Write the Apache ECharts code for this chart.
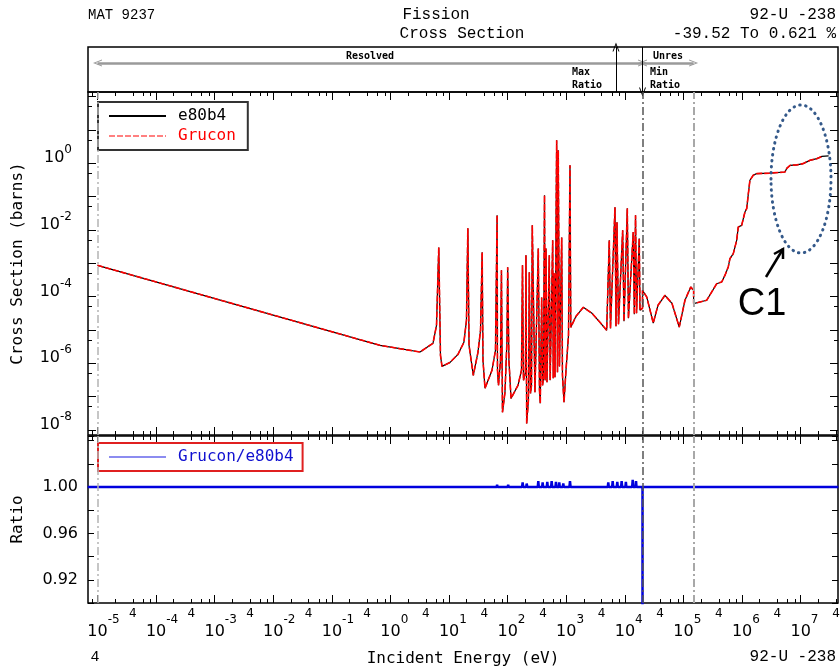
<!DOCTYPE html>
<html>
<head>
<meta charset="utf-8">
<title>MAT 9237 Fission Cross Section</title>
<script src="https://cdn.jsdelivr.net/npm/echarts@6.0.0/dist/echarts.min.js"></script>
<style>
  html, body { margin: 0; padding: 0; background: #fff; }
  #main { width: 840px; height: 668px; }
</style>
</head>
<body>
<div id="main"></div>
<script>
// cross section curve (energy in eV, sigma in barns)
var xsEnergy = [
  1e-5, 0.662, 1.45, 3.19, 5.31, 6.10, 6.67, 7.13, 7.57, 10.4, 14.2, 17.9, 19.8, 20.9, 21.9,
  25.9, 31.1, 34.4, 36.7, 37.9, 41.0, 54.0, 61.9, 66.0, 67.0, 69.7, 75.4, 78.3, 81.5, 89.9,
  97.3, 100, 105, 114, 150, 172, 179, 186, 201, 205, 211, 226, 234, 245, 255, 263, 292,
  333, 349, 360, 380, 393, 408, 425, 437, 451, 469, 513, 531, 586, 600, 617, 641, 685,
  708, 730, 765, 835, 861, 914, 989, 1091, 1157, 1194, 1465, 1950, 2750, 3760, 4890,
  5420, 5680, 6780, 7050, 7330, 7780, 9170, 9660, 11000, 11500, 13900, 14500, 15200,
  15800, 17600, 18100, 20000,
  20000, 23600, 30500, 36700, 48300, 63600, 84700, 106000, 133000, 149000,
  149000, 249000, 369000, 449000, 511000, 581000, 621000, 708000, 809000, 861000, 984000,
  1.12e6, 1.2e6, 1.28e6, 1.36e6, 1.55e6, 1.77e6, 2.99e6, 5.4e6, 5.8e6, 6.6e6, 8.6e6,
  1.1e7, 1.44e7, 1.88e7, 2.31e7, 3.0e7
];
var xsValue = [
  8.7e-4, 3.47e-6, 2.75e-6, 2.19e-6, 3.98e-6, 1.38e-5, 3.0e-3, 1.74e-6, 8.1e-7, 1.07e-6, 1.86e-6, 4.27e-6, 1.95e-5, 1.12e-2, 3.47e-6,
  4.37e-7, 2.14e-6, 9.8e-6, 2.14e-3, 1.23e-6, 1.78e-7, 6.2e-7, 2.45e-6, 2.75e-2, 6.2e-7, 2.19e-7, 1.23e-6, 6.2e-4, 3.4e-8, 1.35e-7,
  4.9e-6, 7.6e-4, 1.23e-6, 8.9e-8, 2.19e-7, 6.2e-7, 8.7e-4, 3.1e-7, 5.4e-7, 1.74e-3, 1.58e-8, 7.8e-8, 5.4e-4, 1.26e-7, 2.19e-7, 1.38e-2, 1.35e-7,
  2.8e-3, 1.55e-7, 6.3e-8, 9.5e-5, 2.19e-7, 3.55e-7, 0.11, 3.1e-7, 2.8e-3, 2.7e-7, 1.74e-3, 3.1e-7, 4.9e-3, 3.55e-7, 5.0e-4, 3.8e-7, 4.9,
  5.4e-7, 2.45, 8.1e-7, 6.0e-3, 4.4e-7, 6.8e-8, 6.2e-7, 6.9e-6, 0.87, 1.2e-5, 2.57e-5, 4.8e-5, 3.16e-5, 1.7e-5, 9.8e-6,
  4.9e-3, 1.12e-5, 4.8e-2, 1.29e-5, 1.7e-2, 1.48e-5, 9.8e-3, 1.82e-5, 4.5e-2, 2.24e-5, 8.7e-3, 2.95e-5, 2.75e-2,
  3.16e-5, 5.6e-3, 3.9e-5, 4.5e-5,
  1.55e-4, 9.8e-5, 1.62e-5, 5.5e-5, 1.1e-4, 6.3e-5, 1.23e-5, 7.8e-5, 1.95e-4, 1.55e-4,
  6.2e-5, 7.8e-5, 2.45e-4, 2.75e-4, 4.4e-4, 7.8e-4, 1.38e-3, 1.95e-3, 4.9e-3, 1.23e-2, 1.38e-2,
  3.47e-2, 4.4e-2, 0.123, 0.31, 0.44, 0.49, 0.51, 0.55, 0.71, 0.87, 0.9,
  0.98, 1.23, 1.38, 1.62, 1.68
];
var gruconLastEnergy = 2.31e7;

// ratio Grucon/e80b4
var ratioEnergy = [
  6.8e-6, 6.5, 6.67, 6.8, 20.5, 20.9, 21.3, 36, 36.7, 37.4, 65, 66, 67, 80, 81, 82, 100, 102, 104,
  176, 180, 184, 207, 211, 216, 326, 333, 340, 387, 395, 403, 464, 474, 484, 551, 563, 575,
  653, 667, 681, 745, 760, 775, 870, 889, 908, 1130, 1157, 1185,
  5100, 5210, 5320, 6060, 6190, 6320, 7260, 7420, 7580, 8620, 8810, 9000,
  10200, 10400, 10600, 13300, 13600, 13900, 15200, 15500, 15800,
  20000, 20000, 20000, 4.4e7
];
var ratioValue = [
  1, 1, 1.001, 1, 1, 1.0015, 1, 1, 1.0015, 1, 1, 1.002, 1, 1, 1.0015, 1, 1, 1.002, 1,
  1, 1.004, 1, 1, 1.003, 1, 1, 1.005, 1, 1, 1.004, 1, 1, 1.0045, 1, 1, 1.005, 1,
  1, 1.0045, 1, 1, 1.004, 1, 1, 1.003, 1, 1, 1.005, 1,
  1, 1.004, 1, 1, 1.005, 1, 1, 1.0045, 1, 1, 1.005, 1,
  1, 1.0045, 1, 1, 1.0062, 1, 1, 1.005, 1,
  1, 0.6048, 1, 1
];

// axes
var xDecades = [-5, -4, -3, -2, -1, 0, 1, 2, 3, 4, 5, 6, 7];
var xMinorMult = [2, 4, 6, 8];
var yDecades = [-8, -7, -6, -5, -4, -3, -2, -1, 0, 1, 2];
var yLabelDecades = [-8, -6, -4, -2, 0];
var ratioLabels = [0.92, 0.96, 1.00];

// energy boundaries
var eLow = 1e-5, eResolved = 2e4, eUnresolved = 1.49e5, eMaxRatio = 7050;

var XMIN = -5.162, XMAX = 7.637;
var YMIN = -8.15, YMAX = 2.14;
var RMIN = 0.90, RMAX = 1.044;

function lx(e) { return Math.log10(e); }

var xMinor = [];
[-6].concat(xDecades).forEach(function (d) {
  xMinorMult.forEach(function (m) {
    var v = d + Math.log10(m);
    if (v > XMIN && v < XMAX) xMinor.push(v);
  });
});
var xFour = xDecades.map(function (d) { return d + Math.log10(4); }).filter(function (v) { return v < XMAX; });
var yMinor = yDecades.map(function (d) { return d + Math.log10(5); }).filter(function (v) { return v < YMAX; });

var xsData = xsEnergy.map(function (e, i) { return [lx(e), lx(xsValue[i])]; });
var gruconData = xsData.filter(function (p, i) { return xsEnergy[i] <= gruconLastEnergy; });
var ratioData = ratioEnergy.map(function (e, i) { return [lx(e), ratioValue[i]]; });

var MONO = '"DejaVu Sans Mono", monospace';
var HEAD = '"Liberation Mono", monospace';
var CHEV = 'path://M0,10 L5,0 L10,10 L8.6,10 L5,2.8 L1.4,10 Z';

function expText(v) {
  var n = Math.round(v);
  return n < 0 ? '-' + (-n) : '' + n;
}

function baseAxis(grid, pos, min, max) {
  return {
    type: 'value', gridIndex: grid, position: pos, min: min, max: max,
    axisLine: { show: false, onZero: false },
    splitLine: { show: false },
    axisTick: { show: false },
    axisLabel: { show: false }
  };
}
function tickAxis(grid, pos, min, max, ticks, len) {
  var a = baseAxis(grid, pos, min, max);
  a.axisTick = { show: true, inside: true, length: len, customValues: ticks, lineStyle: { color: '#000', width: 1 } };
  return a;
}

var xAxes = [
  baseAxis(0, 'bottom', XMIN, XMAX),
  tickAxis(1, 'bottom', XMIN, XMAX, xDecades, 8),
  tickAxis(1, 'bottom', XMIN, XMAX, xMinor, 4),
  tickAxis(1, 'top', XMIN, XMAX, xDecades, 8),
  tickAxis(1, 'top', XMIN, XMAX, xMinor, 4),
  tickAxis(2, 'bottom', XMIN, XMAX, xDecades, 8),
  tickAxis(2, 'bottom', XMIN, XMAX, xMinor, 4),
  tickAxis(2, 'top', XMIN, XMAX, xDecades, 8),
  tickAxis(2, 'top', XMIN, XMAX, xMinor, 4)
];
// decade labels under the ratio panel
xAxes[5].axisLabel = {
  show: true, customValues: xDecades, margin: 11, color: '#000',
  formatter: function (v) { var ex = expText(v); return '{p|' + ex + '}{b|10}{e|' + ex + '}'; },
  rich: {
    p: { fontSize: 12, fontFamily: 'DejaVu Sans', color: 'rgba(0,0,0,0)', lineHeight: 12, verticalAlign: 'top' },
    b: { fontSize: 16, fontFamily: 'DejaVu Sans', color: '#000', lineHeight: 26, verticalAlign: 'bottom' },
    e: { fontSize: 12, fontFamily: 'DejaVu Sans', color: '#000', lineHeight: 12, verticalAlign: 'top' }
  }
};
xAxes[5].name = 'Incident Energy (eV)';
xAxes[5].nameLocation = 'middle';
xAxes[5].nameGap = 48;
xAxes[5].nameTextStyle = { fontFamily: MONO, fontSize: 16, color: '#000' };
xAxes[6].axisLabel = {
  show: true, customValues: xFour, margin: 5, color: '#000',
  fontFamily: 'DejaVu Sans', fontSize: 12,
  formatter: function () { return '4'; }
};

var yAxes = [
  { type: 'value', gridIndex: 0, min: 0, max: 1, show: false },
  tickAxis(1, 'left', YMIN, YMAX, yDecades, 8),
  tickAxis(1, 'left', YMIN, YMAX, yMinor, 4),
  tickAxis(1, 'right', YMIN, YMAX, yDecades, 8),
  tickAxis(1, 'right', YMIN, YMAX, yMinor, 4),
  baseAxis(2, 'left', RMIN, RMAX),
  baseAxis(2, 'right', RMIN, RMAX)
];
yAxes[1].axisLabel = {
  show: true, customValues: yLabelDecades, margin: 16, color: '#000', padding: [0, 0, 16, 0],
  formatter: function (v) { return '{b|10}{e|' + expText(v) + '}'; },
  rich: {
    b: { fontSize: 16, fontFamily: 'DejaVu Sans', color: '#000', lineHeight: 22, verticalAlign: 'bottom' },
    e: { fontSize: 12, fontFamily: 'DejaVu Sans', color: '#000', lineHeight: 12, verticalAlign: 'top' }
  }
};
yAxes[1].name = 'Cross Section (barns)';
yAxes[1].nameLocation = 'middle';
yAxes[1].nameGap = 62;
yAxes[1].nameTextStyle = { fontFamily: MONO, fontSize: 16, color: '#000' };
[5, 6].forEach(function (i) {
  yAxes[i].interval = 0.02;
  yAxes[i].axisTick = { show: true, inside: true, length: 6, lineStyle: { color: '#000', width: 1 } };
});
yAxes[5].axisLabel = {
  show: true, customValues: ratioLabels, margin: 10, color: '#000',
  fontFamily: 'DejaVu Sans', fontSize: 16, padding: [0, 0, 14, 0],
  formatter: function (v) { return v.toFixed(2); }
};
yAxes[5].name = 'Ratio';
yAxes[5].nameLocation = 'middle';
yAxes[5].nameGap = 62;
yAxes[5].nameTextStyle = { fontFamily: MONO, fontSize: 16, color: '#000' };

var dashDot = [8, 3, 2, 3];
var boundaryLines = [
  { xAxis: lx(eLow), lineStyle: { color: '#b4b4b4', width: 1.5, type: dashDot } },
  { xAxis: lx(eResolved), lineStyle: { color: '#555', width: 1.5, type: dashDot } },
  { xAxis: lx(eUnresolved), lineStyle: { color: '#a8a8a8', width: 2, type: dashDot } }
];

var gridBase = { left: 88, width: 750, show: true, borderColor: '#000', borderWidth: 1.5,
  backgroundColor: 'transparent', outerBoundsMode: 'none', containLabel: false };

var option = {
  animation: false,
  backgroundColor: '#fff',
  textStyle: { fontFamily: 'DejaVu Sans' },
  grid: [
    Object.assign({}, gridBase, { top: 47, height: 45 }),
    Object.assign({}, gridBase, { top: 92, height: 343 }),
    Object.assign({}, gridBase, { top: 436, height: 167 })
  ],
  xAxis: xAxes,
  yAxis: yAxes,
  legend: [
    {
      left: 98, top: 102, orient: 'vertical',
      borderColor: '#333', borderWidth: 2, borderRadius: 0,
      padding: [6, 12, 6, 10], itemWidth: 57, itemHeight: 14, itemGap: 4,
      itemStyle: { opacity: 0 },
      textStyle: { fontFamily: MONO, fontSize: 16, padding: [0, 0, 0, 7] },
      data: [
        { name: 'e80b4', textStyle: { color: '#000' } },
        { name: 'Grucon', textStyle: { color: '#ff0000' }, lineStyle: { color: '#ff8080' } }
      ]
    },
    {
      left: 98, top: 443, orient: 'vertical',
      borderColor: '#e02020', borderWidth: 2, borderRadius: 0,
      padding: [6, 9, 6, 10], itemWidth: 57, itemHeight: 14,
      itemStyle: { opacity: 0 },
      textStyle: { fontFamily: MONO, fontSize: 16, padding: [0, 0, 0, 7] },
      data: [
        { name: 'Grucon/e80b4', textStyle: { color: '#1010d0' }, lineStyle: { color: '#8c8cf0', width: 2 } }
      ]
    }
  ],
  graphic: [
    { type: 'text', x: 88, y: 15, style: { text: 'MAT 9237', font: '14px ' + HEAD, fill: '#000', align: 'left', verticalAlign: 'middle' } },
    { type: 'text', x: 436, y: 15, style: { text: 'Fission', font: '16px ' + HEAD, fill: '#000', align: 'center', verticalAlign: 'middle' } },
    { type: 'text', x: 462, y: 34, style: { text: 'Cross Section', font: '16px ' + HEAD, fill: '#000', align: 'center', verticalAlign: 'middle' } },
    { type: 'text', x: 836, y: 15, style: { text: '92-U -238', font: '16px ' + HEAD, fill: '#000', align: 'right', verticalAlign: 'middle' } },
    { type: 'text', x: 836, y: 34, style: { text: '-39.52 To 0.621 %', font: '16px ' + HEAD, fill: '#000', align: 'right', verticalAlign: 'middle' } },
    { type: 'text', x: 572, y: 72, style: { text: 'Max', font: 'bold 10px ' + MONO, fill: '#000', align: 'left', verticalAlign: 'middle' } },
    { type: 'text', x: 572, y: 85, style: { text: 'Ratio', font: 'bold 10px ' + MONO, fill: '#000', align: 'left', verticalAlign: 'middle' } },
    { type: 'text', x: 650, y: 72, style: { text: 'Min', font: 'bold 10px ' + MONO, fill: '#000', align: 'left', verticalAlign: 'middle' } },
    { type: 'text', x: 650, y: 85, style: { text: 'Ratio', font: 'bold 10px ' + MONO, fill: '#000', align: 'left', verticalAlign: 'middle' } },
    { type: 'text', x: 95, y: 657, style: { text: '4', font: '15px ' + HEAD, fill: '#000', align: 'center', verticalAlign: 'middle' } },
    { type: 'text', x: 836, y: 657, style: { text: '92-U -238', font: '16px ' + HEAD, fill: '#000', align: 'right', verticalAlign: 'middle' } },
    // C1 callout
    { type: 'ellipse', z: 100, shape: { cx: 801, cy: 179, rx: 30, ry: 74 },
      style: { fill: 'none', stroke: '#34598a', lineWidth: 3, lineDash: [0.5, 5.5], lineCap: 'round' } },
    { type: 'polyline', z: 100, shape: { points: [[766, 277], [783, 249]] }, style: { stroke: '#000', lineWidth: 2.5, fill: 'none' } },
    { type: 'polyline', z: 100, shape: { points: [[774, 254], [783, 249], [783, 259]] }, style: { stroke: '#000', lineWidth: 2.5, fill: 'none' } },
    { type: 'text', z: 100, x: 762, y: 305, style: { text: 'C1', font: '38px "Liberation Sans"', fill: '#000', align: 'center', verticalAlign: 'middle' } }
  ],
  series: [
    {
      name: 'ranges', type: 'scatter', xAxisIndex: 0, yAxisIndex: 0,
      data: [[lx(eMaxRatio), 0.5]], symbolSize: 0, silent: true,
      markLine: {
        silent: true, animation: false, symbolSize: [7, 9],
        label: { show: true, formatter: '{b}', position: 'insideMiddleTop', distance: 2,
          fontFamily: MONO, fontSize: 10, fontWeight: 'bold', color: '#000' },
        data: [
          [{ name: 'Resolved', coord: [lx(eLow), 0.644], symbol: CHEV, lineStyle: { color: '#9a9a9a', width: 2.5, type: 'solid' } },
           { coord: [lx(eResolved), 0.644], symbol: CHEV }],
          [{ name: 'Unres', coord: [lx(eResolved), 0.644], symbol: CHEV, lineStyle: { color: '#9a9a9a', width: 2.5, type: 'solid' } },
           { coord: [lx(eUnresolved), 0.644], symbol: CHEV }],
          [{ name: '', coord: [lx(eMaxRatio), 0], symbol: 'none', lineStyle: { color: '#000', width: 1, type: 'solid' } },
           { coord: [lx(eMaxRatio), 1], symbol: CHEV }],
          [{ name: '', coord: [lx(eResolved), 1], symbol: 'none', lineStyle: { color: '#000', width: 1, type: 'solid' } },
           { coord: [lx(eResolved), 0], symbol: CHEV }]
        ]
      }
    },
    {
      name: 'e80b4', type: 'line', xAxisIndex: 1, yAxisIndex: 1,
      data: xsData, showSymbol: false, symbol: 'none', color: '#000',
      lineStyle: { color: '#000', width: 1.2 },
      markLine: { silent: true, symbol: 'none', label: { show: false }, data: boundaryLines }
    },
    {
      name: 'Grucon', type: 'line', xAxisIndex: 1, yAxisIndex: 1,
      data: gruconData, showSymbol: false, symbol: 'none', color: '#ff0000',
      lineStyle: { color: '#ff0000', width: 1.6, type: [6, 2] }
    },
    {
      name: 'Grucon/e80b4', type: 'line', xAxisIndex: 5, yAxisIndex: 5,
      data: ratioData, showSymbol: false, symbol: 'none', color: '#0000dd',
      lineStyle: { color: '#0000dd', width: 2.5 },
      markLine: { silent: true, symbol: 'none', label: { show: false }, data: boundaryLines }
    }
  ]
};

var myChart = echarts.init(document.getElementById('main'));
myChart.setOption(option);
window.onresize = function () {
  myChart.resize();
};
</script>
</body>
</html>
